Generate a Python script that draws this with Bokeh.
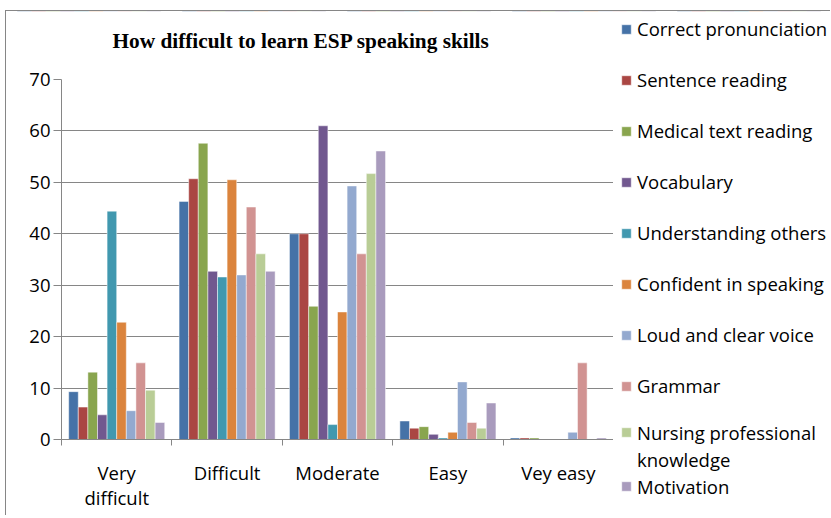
from bokeh.plotting import figure
from bokeh.models import Range1d, FixedTicker, Legend, LegendItem, ColumnDataSource
from bokeh.embed import file_html
from bokeh.resources import INLINE

categories = ["Very\ndifficult", "Difficult", "Moderate", "Easy", "Vey easy"]
series_names = ["Correct pronunciation", "Sentence reading", "Medical text reading",
                "Vocabulary", "Understanding others", "Confident in speaking",
                "Loud and clear voice", "Grammar", "Nursing professional",
                "Motivation"]
nursing_second_line = "knowledge"
correct_pronunciation = [9.3, 46.3, 40.0, 3.6, 0.3]
sentence_reading = [6.3, 50.7, 40.0, 2.2, 0.3]
medical_text_reading = [13.1, 57.6, 25.9, 2.5, 0.3]
vocabulary = [4.8, 32.7, 61.0, 1.0, 0.0]
understanding_others = [44.4, 31.6, 2.9, 0.3, 0.0]
confident_in_speaking = [22.8, 50.5, 24.8, 1.4, 0.0]
loud_and_clear_voice = [5.6, 32.0, 49.3, 11.2, 1.4]
grammar = [14.9, 45.2, 36.1, 3.3, 14.9]
nursing_knowledge = [9.6, 36.1, 51.7, 2.2, 0.0]
motivation = [3.3, 32.7, 56.1, 7.1, 0.3]
y_ticks = [0, 10, 20, 30, 40, 50, 60, 70]

series_values = [correct_pronunciation, sentence_reading, medical_text_reading,
                 vocabulary, understanding_others, confident_in_speaking,
                 loud_and_clear_voice, grammar, nursing_knowledge, motivation]
colors = ["#4572A7", "#AA4643", "#89A54E", "#71588F", "#4198AF",
          "#DB843D", "#93A9CF", "#D19392", "#B9CD96", "#A99BBD"]

FONT = "Open Sans"
FS = "18.5px"
BORDER = "1px solid #868686"

# ---- chart-area canvas (background, border and legend) ----
q = figure(width=825, height=505, output_backend="svg", toolbar_location=None,
           x_range=Range1d(0, 5), y_range=Range1d(-200, -100),
           x_axis_location=None, y_axis_location=None,
           min_border_left=0, min_border_right=0, min_border_top=0, min_border_bottom=0)
q.styles = {"position": "absolute", "left": "5px", "top": "10px",
            "border-left": BORDER, "border-top": BORDER}
q.outline_line_color = None
q.grid.visible = False

# ---- plot canvas (transparent, drawn over the chart-area canvas) ----
p = figure(width=607, height=516, x_range=Range1d(0, 5), y_range=Range1d(0, 70),
           output_backend="svg", toolbar_location=None,
           min_border_left=55, min_border_right=0, min_border_top=79, min_border_bottom=77)
p.styles = {"position": "absolute", "left": "6px", "top": "0px"}
p.outline_line_color = None
p.border_fill_color = None
p.background_fill_color = None

p.title.text = "How difficult to learn ESP speaking skills"
p.title.text_font = "Liberation Serif"
p.title.text_font_style = "bold"
p.title.text_font_size = "21.3px"
p.title.align = "left"
p.title.vertical_align = "top"
p.title.offset = 51
p.title.standoff = 50
p.title.text_color = "#000000"

bw = 0.087
centers = [i + 0.5 for i in range(len(categories))]
sources = []
for j, (vals, col) in enumerate(zip(series_values, colors)):
    xs = [c + (j - 4.5) * bw for c in centers]
    src = ColumnDataSource(dict(x=xs, top=vals))
    sources.append(src)
    p.vbar(x="x", top="top", bottom=0, width=bw, source=src,
           fill_color=col, line_color="white", line_alpha=0.6, line_width=0.8)

p.xaxis.ticker = FixedTicker(ticks=centers, minor_ticks=list(range(len(categories) + 1)))
p.xaxis.major_label_overrides = {c: lab for c, lab in zip(centers, categories)}
p.xaxis.major_tick_line_color = None
p.xaxis.major_tick_out = 0
p.xaxis.minor_tick_in = 0
p.xaxis.minor_tick_out = 6
p.xaxis.minor_tick_line_color = "#868686"
p.xaxis.axis_line_color = "#868686"
p.xaxis.major_label_standoff = 14
p.xaxis.major_label_text_font = FONT
p.xaxis.major_label_text_font_size = FS
p.xaxis.major_label_text_color = "#000000"
p.xaxis.major_label_text_line_height = 1.0

p.yaxis.ticker = FixedTicker(ticks=y_ticks)
p.yaxis.axis_line_color = "#868686"
p.yaxis.major_tick_line_color = "#868686"
p.yaxis.major_tick_in = 0
p.yaxis.major_tick_out = 8
p.yaxis.minor_tick_line_color = None
p.yaxis.major_label_standoff = 3
p.yaxis.major_label_text_font = FONT
p.yaxis.major_label_text_font_size = FS
p.yaxis.major_label_text_color = "#000000"

p.xgrid.grid_line_color = None
p.ygrid.grid_line_color = "#868686"
p.ygrid.grid_line_width = 1.1

# legend swatches: renderers on the chart-area canvas whose data stay out of view
swatches = [q.vbar(x="x", top="top", bottom=0, width=bw, source=s, fill_color=c,
                   line_color="white", line_alpha=0.6)
            for s, c in zip(sources, colors)]
blank = q.vbar(x="x", top="top", bottom=0, width=bw, source=sources[8],
               fill_alpha=0, line_alpha=0)

def make_legend(pairs, loc, lh, spacing):
    lg = Legend(items=[LegendItem(label=lab, renderers=[r]) for lab, r in pairs],
                location=loc, orientation="vertical", padding=0, margin=0, spacing=spacing,
                glyph_width=12, glyph_height=12, label_height=lh, label_standoff=5,
                label_text_font=FONT, label_text_font_size=FS, label_text_color="#000000",
                border_line_color=None, background_fill_alpha=0)
    q.add_layout(lg)

make_legend([(series_names[k], swatches[k]) for k in range(8)], (614, 118), 25, 26)
make_legend([(series_names[8], swatches[8]), (nursing_second_line, blank),
             (series_names[9], swatches[9])], (614, 17.5), 23, 2)

open("out.html", "w").write(file_html([q, p], INLINE))
